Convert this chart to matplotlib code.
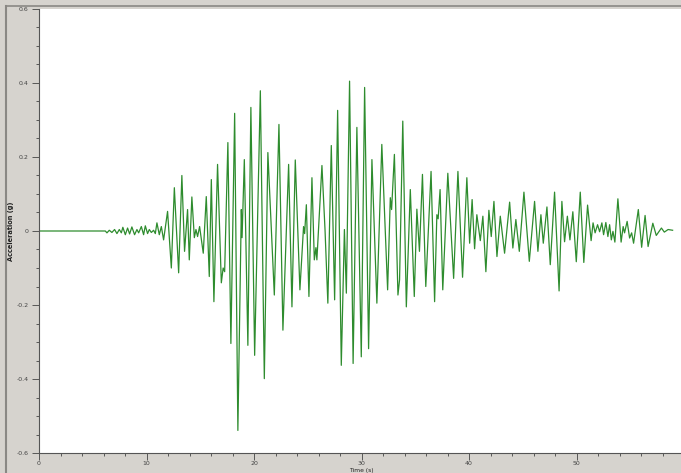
import matplotlib.pyplot as plt
from matplotlib.lines import Line2D
from matplotlib.ticker import MultipleLocator

# peaks and troughs of the record
TIME = [
    0.0, 6.17, 6.32, 6.54, 6.78, 7.03, 7.25, 7.47, 7.66, 7.80, 8.03, 8.24, 8.43,
    8.64, 8.89, 9.11, 9.27, 9.52, 9.73, 9.89, 10.10, 10.26, 10.45, 10.66, 10.82,
    10.97, 11.19, 11.38, 11.59, 11.96, 12.31, 12.59, 12.99, 13.29, 13.54, 13.82,
    13.98, 14.22, 14.45, 14.60, 14.75, 14.94, 15.28, 15.56, 15.84, 16.03, 16.27,
    16.61, 16.96, 17.13, 17.27, 17.57, 17.85, 18.20, 18.50, 18.82, 18.89, 19.10,
    19.43, 19.71, 20.06, 20.59, 20.96, 21.29, 21.89, 22.32, 22.69, 23.22, 23.53,
    23.84, 24.27, 24.61, 24.71, 24.87, 25.11, 25.39, 25.61, 25.76, 25.85, 26.32,
    26.61, 26.87, 27.19, 27.50, 27.78, 28.12, 28.41, 28.59, 28.89, 29.22, 29.57,
    29.98, 30.29, 30.66, 30.97, 31.43, 31.89, 32.43, 32.68, 32.80, 33.06, 33.39,
    33.54, 33.84, 34.17, 34.54, 34.91, 35.15, 35.39, 35.67, 35.98, 36.47, 36.80,
    37.01, 37.13, 37.31, 37.56, 38.03, 38.57, 38.97, 39.40, 39.80, 40.06, 40.29,
    40.52, 40.73, 41.05, 41.29, 41.57, 41.85, 42.07, 42.32, 42.60, 42.91, 43.31,
    43.78, 44.08, 44.36, 44.68, 45.11, 45.61, 46.10, 46.41, 46.69, 46.91, 47.25,
    47.56, 47.96, 48.38, 48.64, 48.89, 49.15, 49.39, 49.66, 49.98, 50.35, 50.68,
    51.03, 51.36, 51.54, 51.73, 51.96, 52.15, 52.36, 52.52, 52.73, 52.92, 53.08,
    53.24, 53.39, 53.57, 53.85, 54.15, 54.34, 54.47, 54.71, 54.94, 55.13, 55.31,
    55.75, 56.06, 56.38, 56.66, 57.10, 57.42, 57.90, 58.17, 58.52, 58.94,
]
ACCEL = [
    0.0, 0.0, -0.005, 0.002, -0.004, 0.004, -0.007, 0.004, -0.005, 0.010, -0.010,
    0.008, -0.008, 0.011, -0.010, 0.004, -0.005, 0.012, -0.010, 0.014, -0.007,
    0.004, -0.004, 0.002, -0.007, 0.022, -0.010, 0.012, -0.024, 0.053, -0.100,
    0.117, -0.113, 0.150, -0.055, 0.058, -0.078, 0.092, -0.018, 0.004, -0.015,
    0.012, -0.060, 0.093, -0.123, 0.139, -0.191, 0.180, -0.140, -0.100, -0.110,
    0.239, -0.304, 0.318, -0.539, 0.058, -0.018, 0.193, -0.309, 0.334, -0.336,
    0.379, -0.399, 0.212, -0.173, 0.288, -0.268, 0.180, -0.205, 0.192, -0.159,
    0.012, -0.007, 0.071, -0.177, 0.144, -0.078, -0.045, -0.078, 0.177, 0.001,
    -0.195, 0.231, -0.186, 0.326, -0.363, 0.004, -0.168, 0.405, -0.358, 0.280,
    -0.340, 0.388, -0.318, 0.193, -0.195, 0.234, -0.159, 0.090, 0.058, 0.207,
    -0.173, -0.132, 0.297, -0.205, 0.112, -0.177, 0.059, -0.055, 0.153, -0.150,
    0.161, -0.191, 0.044, 0.033, 0.112, -0.159, 0.156, -0.128, 0.161, -0.125,
    0.144, -0.033, 0.085, -0.048, 0.044, -0.026, 0.040, -0.110, 0.056, -0.015,
    0.080, -0.069, 0.040, -0.060, 0.078, -0.046, 0.031, -0.055, 0.105, -0.082,
    0.080, -0.055, 0.044, -0.033, 0.065, -0.091, 0.105, -0.162, 0.080, -0.029,
    0.040, -0.024, 0.052, -0.083, 0.105, -0.085, 0.070, -0.026, 0.022, -0.005,
    0.017, -0.002, 0.022, -0.010, 0.023, -0.015, 0.017, -0.024, -0.001, -0.030,
    0.087, -0.030, 0.012, -0.005, 0.026, -0.019, -0.005, -0.033, 0.058, -0.044,
    0.042, -0.042, 0.021, -0.012, 0.008, -0.003, 0.004, 0.002,
]
X_TICKS = [0, 10, 20, 30, 40, 50]
Y_TICKS = [-0.6, -0.4, -0.2, 0, 0.2, 0.4, 0.6]
Y_LABELS = ['-0.6', '-0.4', '-0.2', '0', '0.2', '0.4', '0.6']

BG = '#d6d3ce'
GREEN = '#2e8c2e'

fig = plt.figure(figsize=(6.81, 4.73), dpi=100, facecolor=BG)

# window frame lines at left and top
fig.add_artist(Line2D([6 / 681, 6 / 681], [0, 1 - 6 / 473], color='#8a8884', lw=1.5))
fig.add_artist(Line2D([6 / 681, 1], [1 - 6 / 473, 1 - 6 / 473], color='#8a8884', lw=1.2))

ax = fig.add_axes([39 / 681, 1 - 453 / 473, 645 / 681, 444 / 473])
ax.plot(TIME, ACCEL, color=GREEN, lw=0.9)

ax.set_xlim(0, 60)
ax.set_ylim(-0.6, 0.6)
ax.set_xticks(X_TICKS, [str(x) for x in X_TICKS])
ax.xaxis.set_minor_locator(MultipleLocator(2))
ax.set_yticks(Y_TICKS, Y_LABELS)
ax.yaxis.set_minor_locator(MultipleLocator(0.05))
ax.tick_params(which='both', direction='out', labelsize=4.5, colors='#444444',
               width=0.6, pad=2.5)
ax.tick_params(axis='x', pad=1)
ax.tick_params(which='major', length=5)
ax.tick_params(which='minor', length=2.5)
for side in ['top', 'right']:
    ax.spines[side].set_visible(False)
for side in ['left', 'bottom']:
    ax.spines[side].set_color('#555555')
    ax.spines[side].set_linewidth(0.8)

ax.set_xlabel('Time (s)', fontsize=4.3, color='#222222')
ax.xaxis.set_label_coords((361 - 39) / 645, -14.5 / 444)
ax.set_ylabel('Acceleration (g)', fontsize=4.8, fontweight='bold', color='#222222')
ax.yaxis.set_label_coords(-25 / 645, 0.5)

plt.savefig('out.png', dpi=100, facecolor=BG)
